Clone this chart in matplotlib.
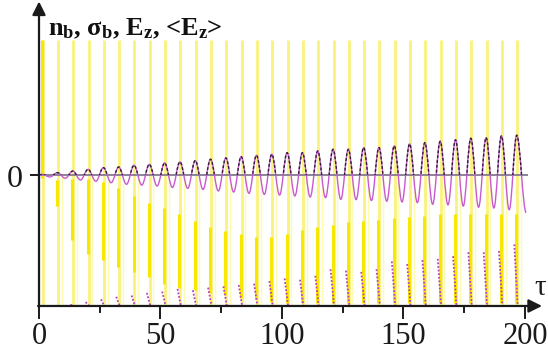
import matplotlib
matplotlib.use("Agg")
import matplotlib.pyplot as plt
from matplotlib.path import Path
from matplotlib.patches import PathPatch, Rectangle

plt.rcParams["font.family"] = ["Liberation Serif", "DejaVu Serif"]
plt.rcParams["mathtext.fontset"] = "custom"
plt.rcParams["mathtext.rm"] = "Liberation Serif:bold"
plt.rcParams["mathtext.it"] = "Liberation Serif:bold"
plt.rcParams["mathtext.bf"] = "Liberation Serif:bold"

# E_z oscillation: maxima and minima
peak_tau = [1.3, 7.6, 13.9, 20.2, 26.5, 32.8, 39.1, 45.4, 51.7, 58.0, 64.3, 70.6, 76.9, 83.2, 89.5, 95.8,
            102.1, 108.4, 114.7, 121.0, 127.3, 133.6, 139.9, 146.2, 152.5, 158.8, 165.1, 171.4, 177.7, 184.0, 190.3, 196.6]
peak_val = [0.005, 0.018, 0.030, 0.043, 0.056, 0.061, 0.074, 0.081, 0.092, 0.100, 0.110, 0.120, 0.130, 0.140, 0.150, 0.158,
            0.170, 0.170, 0.183, 0.196, 0.196, 0.209, 0.209, 0.222, 0.237, 0.247, 0.257, 0.268, 0.280, 0.285, 0.298, 0.303]
trough_tau = [4.5, 10.8, 17.1, 23.4, 29.7, 36.0, 42.3, 48.6, 54.9, 61.2, 67.5, 73.8, 80.1, 86.4, 92.7, 99.0,
              105.3, 111.6, 117.9, 124.2, 130.5, 136.8, 143.1, 149.4, 155.7, 162.0, 168.3, 174.6, 180.9, 187.2, 193.5, 200.5]
trough_val = [-0.015, -0.025, -0.038, -0.048, -0.059, -0.071, -0.077, -0.084, -0.095, -0.102, -0.110, -0.122, -0.130, -0.140, -0.148, -0.153,
              -0.160, -0.168, -0.173, -0.186, -0.188, -0.195, -0.200, -0.206, -0.211, -0.224, -0.228, -0.237, -0.246, -0.252, -0.265, -0.287]

# n_b spikes (one per period) and the brighter part of each spike
spike_tau = [1.5, 7.8, 14.1, 20.4, 26.7, 33.0, 39.3, 45.6, 51.9, 58.2, 64.5, 70.8, 77.1, 83.4, 89.7, 96.0,
             102.3, 108.6, 114.9, 121.2, 127.5, 133.8, 140.1, 146.4, 152.7, 159.0, 165.3, 171.6, 177.9, 184.2, 190.5, 196.8]
bright_top = [1.03, -0.04, -0.03, -0.03, -0.05, -0.10, -0.16, -0.21, -0.25, -0.30, -0.35, -0.40, -0.43, -0.45, -0.47, -0.47,
              -0.45, -0.42, -0.40, -0.38, -0.36, -0.35, -0.34, -0.33, -0.32, -0.31, -0.30, -0.30, -0.30, -0.30, -0.30, -0.30]
bright_bot = [-0.02, -0.24, -0.50, -0.60, -0.65, -0.70, -0.74, -0.78, -0.83, -0.86, -0.88, -0.90, -0.92, -0.94, -0.95, -0.97,
              -0.98, -0.98, -0.98, -0.98, -0.98, -0.98, -0.98, -0.98, -0.98, -0.98, -0.98, -0.98, -0.98, -0.98, -0.98, -0.98]
spike_top = 1.03

# sigma_b marks near the bottom axis
sigma_top = [-1.0, -1.0, -0.99, -0.97, -0.95, -0.93, -0.92, -0.90, -0.89, -0.87, -0.88, -0.86, -0.85, -0.84, -0.83, -0.81,
             -0.79, -0.80, -0.77, -0.72, -0.73, -0.74, -0.72, -0.66, -0.68, -0.65, -0.64, -0.62, -0.59, -0.59, -0.58, -0.53]

xticks = [0, 50, 100, 150, 200]
xminor = [25, 75, 125, 175]
title = r"n$_\mathrm{b}$, σ$_\mathrm{b}$, E$_\mathrm{z}$, <E$_\mathrm{z}$>"

fig = plt.figure(figsize=(5.48, 3.53), dpi=100)
ax = fig.add_axes([0, 0, 1, 1])
ax.set_xlim(-16.05, 209.47)
ax.set_ylim(-1.359, 1.336)
ax.axis("off")

# yellow n_b spikes
ax.vlines(spike_tau, -1, spike_top, colors="#f9f27c", lw=2.0, zorder=1)
ax.vlines([t + 1.5 for t in spike_tau[1:]], -1, 0, colors="#fdfbb0", lw=1.0, zorder=1)
ax.vlines([t - 0.4 for t in spike_tau], bright_bot, bright_top, colors="#f6e800", lw=2.2, zorder=1)

# zero line
ax.plot([0, 201], [0, 0], color="#8a8496", lw=1.4, zorder=2)

# smooth E_z curve through the read extrema
ext = [(0.0, 0.0)]
for i in range(len(peak_tau)):
    ext.append((peak_tau[i], peak_val[i]))
    ext.append((trough_tau[i], trough_val[i]))
verts = [ext[0]]
codes = [Path.MOVETO]
for (t0, v0), (t1, v1) in zip(ext[:-1], ext[1:]):
    h = 0.364 * (t1 - t0)
    verts += [(t0 + h, v0), (t1 - h, v1), (t1, v1)]
    codes += [Path.CURVE4] * 3
ez = Path(verts, codes)
ax.add_patch(PathPatch(ez, fill=False, edgecolor="#c85ad0", lw=1.0, zorder=3))
avg = PathPatch(ez, fill=False, edgecolor="#2a2030", lw=1.0, ls=(0, (2, 1.5)), zorder=4)
ax.add_patch(avg)
avg.set_clip_path(Rectangle((-20, 0.0), 240, 2, transform=ax.transData))

# sigma_b marks
for t, top in zip(spike_tau, sigma_top):
    if top > -0.995:
        ax.plot([t - 1.2, t + 0.2], [top, -1], color="#b83ec8", lw=1.3, ls=(0, (1, 1)), zorder=4)

# axes with arrows
ax.annotate("", xy=(207.0, -1), xytext=(-0.4, -1),
            arrowprops=dict(arrowstyle="-|>", lw=1.6, color="#1a1a1a", mutation_scale=20, shrinkA=0, shrinkB=0), zorder=6)
ax.annotate("", xy=(0, 1.325), xytext=(0, -1.01),
            arrowprops=dict(arrowstyle="-|>", lw=1.6, color="#1a1a1a", mutation_scale=20, shrinkA=0, shrinkB=0), zorder=6)
for t in xticks:
    ax.plot([t, t], [-1, -1.092], color="#1a1a1a", lw=1.4, zorder=6)
    ax.text(t, -1.29, str(t), ha="center", va="baseline", fontsize=22, color="#1a1a1a")
for t in xminor:
    ax.plot([t, t], [-1, -1.046], color="#1a1a1a", lw=1.4, zorder=6)
ax.plot([-3.3, 0], [0, 0], color="#1a1a1a", lw=1.4, zorder=6)
ax.text(-6.5, -0.09, "0", ha="right", va="baseline", fontsize=23, color="#1a1a1a")
ax.text(203.8, -0.92, "τ", ha="left", va="baseline", fontsize=21, color="#1a1a1a")
ax.text(3.7, 1.069, title, ha="left", va="baseline", fontsize=19, fontweight="bold", color="#111111")

fig.savefig("out.png", dpi=100)
